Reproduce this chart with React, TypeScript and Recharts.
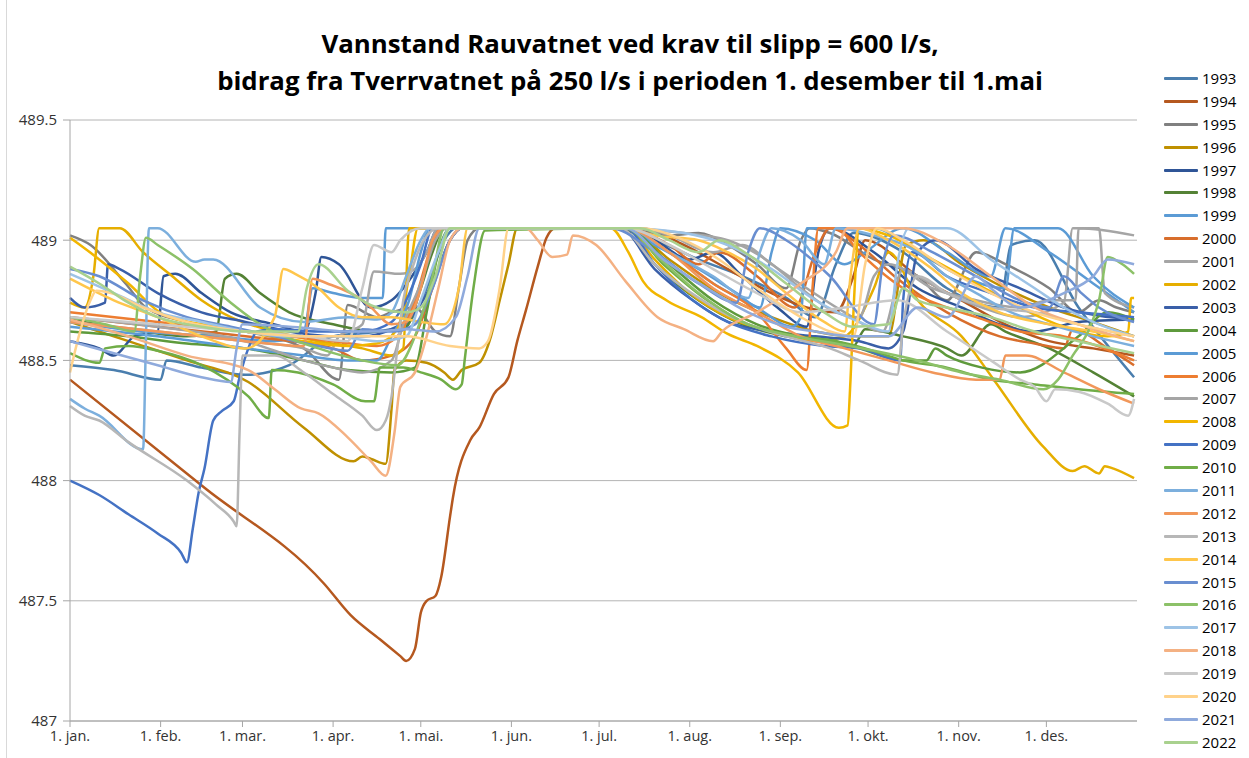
import React from "react";
import { LineChart, Line, XAxis, YAxis, CartesianGrid } from "recharts";

// water level (moh) per day-of-year
type Pt = [number, number];

const YEARS = [
  "1993", "1994", "1995", "1996", "1997", "1998", "1999", "2000", "2001", "2002",
  "2003", "2004", "2005", "2006", "2007", "2008", "2009", "2010", "2011", "2012",
  "2013", "2014", "2015", "2016", "2017", "2018", "2019", "2020", "2021", "2022",
];

const COLORS = [
  "#4A7EAE", "#B5581F", "#808080", "#BF9000", "#2F5597", "#548235",
  "#5B9BD5", "#D86E2C", "#A5A5A5", "#E6AE00", "#3A5FA8", "#5E9A3C",
  "#5B9BD5", "#ED7D31", "#A5A5A5", "#F2B600", "#4472C4", "#70AD47",
  "#7CAFDD", "#F1975A", "#B7B7B7", "#FFC64B", "#698ED0", "#8CC168",
  "#9DC3E6", "#F4B183", "#C9C9C9", "#FFD28A", "#8FAADC", "#A9D18E",
];

const MONTH_TICKS = [0, 31, 59, 90, 120, 151, 181, 212, 243, 273, 304, 334];
const MONTH_LABELS = [
  "1. jan.", "1. feb.", "1. mar.", "1. apr.", "1. mai.", "1. jun.",
  "1. jul.", "1. aug.", "1. sep.", "1. okt.", "1. nov.", "1. des.",
];
const LEVEL_TICKS = [487, 487.5, 488, 488.5, 489, 489.5];

const Y1993: Pt[] = [[0,488.48],[15,488.46],[31,488.42],[33,488.5],[45,488.47],[60,488.44],[75,488.48],[90,488.6],[105,488.62],[115,488.65],[122,488.8],[128,489.0],[132,489.05],[185,489.05],[200,489.0],[215,488.92],[230,488.85],[245,488.76],[255,488.68],[262,488.9],[268,489.03],[285,488.95],[300,488.8],[318,488.72],[322,488.98],[330,489.0],[345,488.72],[364,488.43]];
const Y1994: Pt[] = [[0,488.42],[46,487.97],[87,487.57],[96,487.44],[106,487.34],[113,487.27],[115,487.25],[118,487.3],[120,487.45],[122,487.5],[125,487.52],[127,487.6],[130,487.85],[131,487.93],[137,488.17],[140,488.22],[145,488.36],[150,488.43],[153,488.58],[156,488.71],[160,488.89],[163,489.01],[166,489.05],[195,489.05],[210,488.98],[225,488.88],[240,488.78],[252,488.72],[262,488.7],[268,488.85],[272,489.0],[290,488.85],[305,488.75],[320,488.65],[335,488.58],[350,488.55],[364,488.52]];
const Y1995: Pt[] = [[0,489.02],[7,488.98],[19,488.82],[26,488.72],[40,488.66],[60,488.62],[80,488.55],[92,488.42],[95,488.73],[105,488.68],[110,488.7],[118,488.72],[125,488.62],[130,488.6],[133,488.8],[136,489.0],[140,489.05],[190,489.05],[205,489.02],[215,489.03],[225,488.98],[235,488.9],[245,488.8],[250,489.0],[253,489.05],[260,489.03],[275,488.92],[290,488.85],[300,488.75],[310,488.95],[320,488.9],[335,488.8],[345,488.7],[352,488.75],[358,488.72],[364,488.7]];
const Y1996: Pt[] = [[0,488.66],[20,488.58],[40,488.5],[61,488.41],[80,488.22],[97,488.08],[100,488.1],[103,488.09],[108,488.07],[110,488.3],[111,488.46],[115,488.5],[122,488.49],[128,488.45],[131,488.42],[134,488.46],[140,488.49],[144,488.6],[147,488.75],[150,488.9],[153,489.05],[190,489.05],[205,488.92],[222,488.78],[240,488.68],[255,488.62],[270,488.6],[280,488.6],[286,488.98],[292,489.0],[305,488.9],[320,488.8],[335,488.72],[350,488.66],[364,488.6]];
const Y1997: Pt[] = [[0,488.58],[10,488.55],[15,488.52],[22,488.6],[30,488.62],[32,488.85],[36,488.86],[45,488.78],[55,488.7],[70,488.65],[80,488.62],[84,488.78],[86,488.93],[92,488.9],[103,488.72],[110,488.75],[117,488.85],[122,488.95],[126,489.05],[185,489.05],[200,489.0],[212,488.92],[220,488.95],[230,488.85],[242,488.72],[252,488.64],[256,488.95],[260,489.05],[275,488.95],[290,488.8],[305,488.72],[318,488.65],[330,488.62],[345,488.66],[364,488.67]];
const Y1998: Pt[] = [[0,488.67],[20,488.63],[40,488.6],[50,488.62],[53,488.84],[57,488.86],[65,488.78],[75,488.7],[90,488.65],[105,488.62],[115,488.64],[120,488.8],[124,488.95],[128,489.05],[188,489.05],[200,488.9],[215,488.75],[230,488.65],[245,488.6],[262,488.57],[268,488.56],[272,488.63],[285,488.6],[300,488.55],[305,488.52],[315,488.65],[320,488.62],[335,488.55],[350,488.45],[364,488.35]];
const Y1999: Pt[] = [[0,488.66],[25,488.62],[50,488.6],[70,488.58],[80,488.62],[83,488.8],[90,488.78],[100,488.76],[107,488.76],[108,489.05],[190,489.05],[200,488.98],[215,488.88],[228,488.78],[236,488.72],[240,488.95],[243,489.05],[255,489.0],[265,488.9],[272,488.95],[285,489.05],[300,488.95],[315,488.85],[320,489.05],[335,488.95],[350,488.82],[364,488.7]];
const Y2000: Pt[] = [[0,488.68],[30,488.64],[60,488.6],[90,488.55],[100,488.5],[110,488.52],[118,488.6],[124,488.8],[130,489.0],[134,489.05],[190,489.05],[205,488.98],[215,488.9],[222,488.95],[235,488.85],[248,488.72],[255,488.95],[260,489.05],[270,488.98],[282,488.85],[300,488.7],[318,488.6],[330,488.57],[340,488.55],[343,488.63],[355,488.55],[364,488.48]];
const Y2001: Pt[] = [[0,488.66],[30,488.62],[60,488.58],[80,488.55],[88,488.52],[92,488.6],[100,488.65],[104,488.87],[113,488.86],[118,488.88],[122,488.95],[126,489.05],[195,489.05],[205,489.02],[220,488.95],[230,488.98],[240,488.9],[252,488.8],[265,488.7],[278,488.62],[285,488.88],[290,488.85],[300,488.78],[312,488.72],[325,488.68],[340,488.74],[343,489.05],[352,489.05],[354,488.78],[364,488.72]];
const Y2002: Pt[] = [[0,488.74],[5,488.72],[8,488.85],[10,489.05],[17,489.05],[25,488.95],[35,488.85],[45,488.75],[55,488.68],[70,488.62],[85,488.58],[100,488.55],[110,488.52],[114,488.55],[116,489.05],[190,489.05],[200,488.92],[212,488.78],[225,488.68],[240,488.62],[255,488.58],[265,488.6],[275,488.8],[280,488.95],[290,488.75],[305,488.6],[316,488.42],[333,488.14],[343,488.04],[347,488.06],[352,488.03],[354,488.06],[357,488.05],[364,488.01]];
const Y2003: Pt[] = [[0,488.76],[5,488.72],[12,488.74],[13,488.9],[17,488.88],[30,488.78],[45,488.7],[60,488.66],[75,488.62],[90,488.6],[100,488.6],[110,488.63],[118,488.7],[125,488.85],[130,489.0],[134,489.05],[188,489.05],[200,488.88],[213,488.75],[225,488.66],[240,488.62],[255,488.6],[270,488.58],[280,488.55],[285,488.62],[290,488.95],[296,489.0],[310,488.88],[325,488.8],[340,488.72],[364,488.67]];
const Y2004: Pt[] = [[0,488.62],[20,488.6],[40,488.57],[60,488.55],[80,488.5],[95,488.46],[110,488.45],[118,488.47],[122,488.7],[126,488.95],[130,489.05],[190,489.05],[205,488.9],[220,488.75],[235,488.65],[250,488.6],[262,488.58],[270,488.55],[285,488.5],[293,488.5],[296,488.55],[300,488.52],[312,488.47],[325,488.45],[345,488.6],[355,488.7],[364,488.67]];
const Y2005: Pt[] = [[0,488.64],[30,488.6],[60,488.55],[80,488.52],[95,488.5],[105,488.5],[110,488.6],[116,488.75],[120,488.95],[123,489.05],[190,489.05],[205,488.95],[220,488.82],[235,488.72],[247,488.64],[250,488.68],[252,489.05],[275,489.05],[290,488.95],[305,488.85],[320,488.8],[323,489.05],[338,489.05],[350,488.85],[364,488.72]];
const Y2006: Pt[] = [[0,488.7],[30,488.66],[60,488.62],[90,488.58],[105,488.56],[112,488.6],[118,488.75],[123,488.95],[127,489.05],[190,489.05],[205,488.95],[220,488.82],[235,488.7],[245,488.55],[252,488.46],[254,488.8],[256,489.05],[262,489.05],[270,488.95],[285,488.8],[300,488.72],[310,488.68],[325,488.62],[340,488.6],[364,488.5]];
const Y2007: Pt[] = [[0,488.68],[30,488.64],[60,488.58],[80,488.5],[90,488.47],[100,488.45],[110,488.5],[114,488.65],[120,488.82],[125,489.0],[129,489.05],[185,489.05],[210,489.03],[225,489.0],[238,488.92],[250,488.8],[262,488.7],[270,488.68],[275,488.85],[280,488.9],[295,488.8],[310,488.75],[325,488.72],[335,488.75],[344,488.75],[345,489.05],[364,489.02]];
const Y2008: Pt[] = [[0,489.01],[10,488.92],[20,488.82],[32,488.69],[45,488.65],[60,488.62],[80,488.58],[95,488.56],[105,488.57],[112,488.63],[116,488.85],[119,489.05],[185,489.05],[191,488.95],[196,488.83],[204,488.75],[216,488.68],[225,488.61],[235,488.56],[249,488.45],[263,488.22],[266,488.23],[267,488.42],[268,488.7],[270,489.05],[280,489.02],[295,488.92],[310,488.82],[325,488.72],[340,488.64],[355,488.6],[362,488.62],[363,488.76],[364,488.76]];
const Y2009: Pt[] = [[0,488.0],[10,487.94],[20,487.86],[30,487.78],[38,487.7],[40,487.66],[42,487.8],[44,487.95],[46,488.05],[49,488.25],[52,488.29],[56,488.33],[58,488.43],[61,488.55],[64,488.62],[70,488.63],[85,488.62],[100,488.62],[110,488.66],[115,488.75],[120,488.9],[124,489.05],[190,489.05],[200,488.9],[212,488.76],[225,488.66],[240,488.6],[258,488.56],[270,488.55],[284,488.5],[285,488.75],[288,488.95],[300,488.85],[315,488.78],[330,488.72],[345,488.7],[364,488.68]];
const Y2010: Pt[] = [[0,488.53],[10,488.49],[12,488.55],[20,488.56],[30,488.54],[45,488.48],[61,488.35],[68,488.26],[69,488.46],[78,488.45],[90,488.4],[101,488.33],[104,488.33],[106,488.47],[114,488.47],[120,488.45],[127,488.42],[132,488.38],[134,488.4],[135,488.5],[138,488.8],[142,489.04],[190,489.05],[203,488.9],[218,488.75],[232,488.65],[248,488.6],[262,488.58],[272,488.55],[285,488.5],[300,488.47],[315,488.42],[330,488.4],[345,488.38],[364,488.36]];
const Y2011: Pt[] = [[0,488.34],[5,488.3],[10,488.27],[25,488.13],[26,488.6],[27,489.05],[30,489.05],[43,488.91],[46,488.92],[49,488.92],[65,488.72],[80,488.66],[95,488.68],[105,488.67],[110,488.7],[115,488.85],[120,489.0],[123,489.05],[190,489.05],[205,488.95],[220,488.85],[232,488.76],[236,488.95],[240,489.05],[250,489.0],[258,488.9],[262,489.05],[275,489.02],[290,488.95],[300,488.85],[310,488.78],[322,488.7],[335,488.65],[350,488.6],[364,488.56]];
const Y2012: Pt[] = [[0,488.66],[30,488.62],[60,488.58],[80,488.56],[83,488.84],[88,488.82],[100,488.75],[103,488.72],[110,488.65],[115,488.66],[120,488.8],[124,489.0],[128,489.05],[190,489.05],[205,488.95],[220,488.8],[235,488.7],[250,488.6],[265,488.55],[280,488.5],[295,488.45],[310,488.42],[318,488.42],[320,488.52],[327,488.52],[340,488.45],[352,488.38],[364,488.32]];
const Y2013: Pt[] = [[0,488.31],[5,488.27],[10,488.25],[20,488.16],[40,488.0],[50,487.9],[56,487.83],[57,487.81],[58,488.2],[59,488.52],[70,488.52],[80,488.45],[90,488.36],[100,488.27],[105,488.21],[108,488.25],[110,488.35],[112,488.55],[114,488.75],[117,488.88],[121,489.0],[126,489.05],[188,489.05],[200,488.9],[215,488.76],[230,488.66],[245,488.6],[260,488.55],[270,488.5],[283,488.44],[285,488.65],[290,488.85],[300,488.78],[315,488.72],[330,488.7],[345,488.65],[364,488.6]];
const Y2014: Pt[] = [[0,488.84],[15,488.75],[30,488.68],[45,488.6],[60,488.55],[70,488.68],[73,488.88],[77,488.86],[85,488.8],[92,488.72],[100,488.68],[110,488.68],[120,488.66],[128,488.65],[133,488.8],[136,489.05],[190,489.05],[200,489.02],[215,489.0],[225,488.95],[235,488.88],[245,488.78],[258,488.66],[265,488.62],[267,488.85],[270,489.05],[280,489.0],[295,488.88],[305,488.78],[318,488.7],[335,488.65],[350,488.62],[364,488.58]];
const Y2015: Pt[] = [[0,488.88],[10,488.85],[25,488.75],[40,488.68],[55,488.64],[70,488.6],[85,488.56],[95,488.54],[100,488.63],[110,488.62],[118,488.65],[124,488.8],[130,489.0],[134,489.05],[185,489.05],[200,488.95],[215,488.82],[228,488.74],[232,488.95],[236,489.05],[245,489.0],[260,488.85],[275,488.65],[278,488.9],[282,489.02],[295,488.95],[310,488.85],[325,488.75],[335,488.72],[340,488.85],[346,488.78],[352,488.72],[364,488.66]];
const Y2016: Pt[] = [[0,488.68],[12,488.65],[22,488.62],[24,488.85],[26,489.01],[30,488.98],[42,488.88],[55,488.74],[65,488.65],[85,488.55],[100,488.5],[112,488.48],[118,488.6],[124,488.85],[128,489.05],[190,489.05],[202,488.92],[215,488.78],[230,488.66],[248,488.6],[262,488.57],[275,488.54],[290,488.5],[305,488.45],[318,488.42],[333,488.38],[338,488.42],[343,488.52],[349,488.64],[352,488.75],[355,488.93],[360,488.9],[364,488.86]];
const Y2017: Pt[] = [[0,488.86],[15,488.78],[30,488.7],[45,488.66],[60,488.62],[75,488.6],[90,488.6],[105,488.58],[115,488.6],[120,488.75],[126,488.95],[130,489.05],[190,489.05],[210,489.03],[225,488.98],[240,488.88],[255,488.75],[270,488.66],[280,488.62],[283,488.9],[287,489.05],[300,489.05],[315,488.92],[330,488.8],[340,488.72],[352,488.65],[364,488.6]];
const Y2018: Pt[] = [[0,488.67],[20,488.6],[40,488.52],[61,488.46],[70,488.38],[79,488.3],[85,488.28],[95,488.18],[103,488.08],[108,488.02],[111,488.2],[113,488.39],[118,488.45],[122,488.6],[126,488.8],[130,489.0],[134,489.05],[156,489.05],[160,489.0],[165,488.93],[170,488.94],[172,489.02],[180,488.98],[190,488.83],[201,488.68],[210,488.63],[220,488.58],[223,488.62],[235,488.7],[250,488.82],[262,488.95],[266,489.05],[285,489.05],[300,488.98],[315,488.85],[330,488.72],[345,488.65],[364,488.58]];
const Y2019: Pt[] = [[0,488.68],[20,488.66],[40,488.64],[60,488.62],[80,488.6],[95,488.58],[100,488.8],[104,488.98],[110,488.95],[113,489.0],[120,489.05],[190,489.05],[205,488.98],[220,488.88],[235,488.78],[250,488.7],[265,488.72],[283,488.75],[300,488.62],[315,488.5],[325,488.42],[330,488.39],[334,488.33],[337,488.38],[345,488.37],[355,488.32],[362,488.27],[364,488.34]];
const Y2020: Pt[] = [[0,488.45],[3,488.6],[7,488.75],[9,488.79],[14,488.78],[25,488.72],[40,488.66],[60,488.62],[80,488.6],[100,488.6],[115,488.6],[130,488.56],[140,488.55],[143,488.58],[147,488.8],[150,489.05],[195,489.05],[210,489.0],[222,488.92],[235,488.8],[250,488.68],[260,488.62],[268,488.6],[272,488.9],[276,489.05],[285,489.0],[300,488.88],[315,488.78],[330,488.7],[345,488.65],[364,488.6]];
const Y2021: Pt[] = [[0,488.58],[15,488.53],[30,488.48],[45,488.43],[55,488.41],[57,488.55],[59,488.65],[75,488.64],[85,488.63],[95,488.62],[105,488.62],[115,488.63],[125,488.62],[132,488.68],[136,488.85],[140,489.05],[190,489.05],[203,488.92],[218,488.8],[232,488.7],[245,488.64],[255,488.62],[268,488.6],[280,488.6],[290,488.72],[300,488.68],[310,488.85],[315,488.8],[325,488.72],[340,488.78],[350,488.85],[355,488.92],[364,488.9]];
const Y2022: Pt[] = [[0,488.89],[10,488.82],[20,488.74],[30,488.68],[45,488.64],[60,488.62],[78,488.62],[81,488.8],[85,488.9],[95,488.79],[105,488.72],[115,488.7],[120,488.72],[125,488.85],[130,489.05],[195,489.05],[205,489.0],[215,488.95],[222,489.0],[232,488.94],[245,488.82],[258,488.7],[268,488.64],[280,488.65],[285,488.8],[290,488.75],[300,488.72],[315,488.68],[330,488.62],[345,488.58],[364,488.53]];

const SERIES: Pt[][] = [
  Y1993, Y1994, Y1995, Y1996, Y1997, Y1998, Y1999, Y2000, Y2001, Y2002,
  Y2003, Y2004, Y2005, Y2006, Y2007, Y2008, Y2009, Y2010, Y2011, Y2012,
  Y2013, Y2014, Y2015, Y2016, Y2017, Y2018, Y2019, Y2020, Y2021, Y2022,
];

const FONT = "'Open Sans', 'Liberation Sans', sans-serif";

function fmtLevel(v: number) {
  return String(v);
}

function fmtMonth(d: number) {
  const i = MONTH_TICKS.indexOf(d);
  return i >= 0 ? MONTH_LABELS[i] : "";
}

export default function App() {
  return (
    <div style={{ position: "absolute", left: 0, top: 0, width: 1249, height: 758, background: "#fff", fontFamily: FONT }}>
      <div style={{ position: "absolute", left: 6, top: 0, width: 0, height: 758, borderLeft: "1px solid #D9D9D9" }} />
      <div
        style={{
          position: "absolute",
          left: 130,
          width: 1000,
          top: 25,
          textAlign: "center",
          fontWeight: 700,
          fontSize: 25.8,
          lineHeight: "37px",
          color: "#000",
        }}
      >
        Vannstand Rauvatnet ved krav til slipp = 600 l/s,
        <br />
        bidrag fra Tverrvatnet på 250 l/s i perioden 1. desember til 1.mai
      </div>

      <div style={{ position: "absolute", left: 0, top: 0 }}>
        <LineChart width={1249} height={758} margin={{ top: 120, right: 112, bottom: 7, left: 10 }}>
          <CartesianGrid vertical={false} stroke="#B4B4B4" strokeWidth={1} />
          <XAxis
            dataKey="d"
            type="number"
            domain={[0, 365]}
            ticks={MONTH_TICKS}
            tickFormatter={fmtMonth}
            interval={0}
            height={30}
            stroke="#A6A6A6"
            tickSize={6}
            tickMargin={4}
            tick={{ fontSize: 14.5, fill: "#333", fontFamily: FONT }}
            allowDuplicatedCategory={false}
          />
          <YAxis
            type="number"
            domain={[487, 489.5]}
            ticks={LEVEL_TICKS}
            tickFormatter={fmtLevel}
            width={60}
            stroke="#A6A6A6"
            tickSize={7}
            tickMargin={6}
            tick={{ fontSize: 15, fill: "#333", fontFamily: FONT }}
          />
          {SERIES.map((pts, i) => (
            <Line
              key={YEARS[i]}
              name={YEARS[i]}
              data={pts.map(([d, v]) => ({ d, v }))}
              dataKey="v"
              type="monotoneX"
              stroke={COLORS[i]}
              strokeWidth={2.5}
              dot={false}
              activeDot={false}
              isAnimationActive={false}
            />
          ))}
        </LineChart>
      </div>

      <div style={{ position: "absolute", left: 1164, top: 67 }}>
        {YEARS.map((y, i) => (
          <div key={y} style={{ display: "flex", alignItems: "center", height: 22.9 }}>
            <div style={{ width: 34, height: 3, background: COLORS[i], borderRadius: 1 }} />
            <span style={{ marginLeft: 4, fontSize: 15, color: "#000", lineHeight: "22.9px" }}>{y}</span>
          </div>
        ))}
      </div>
    </div>
  );
}
